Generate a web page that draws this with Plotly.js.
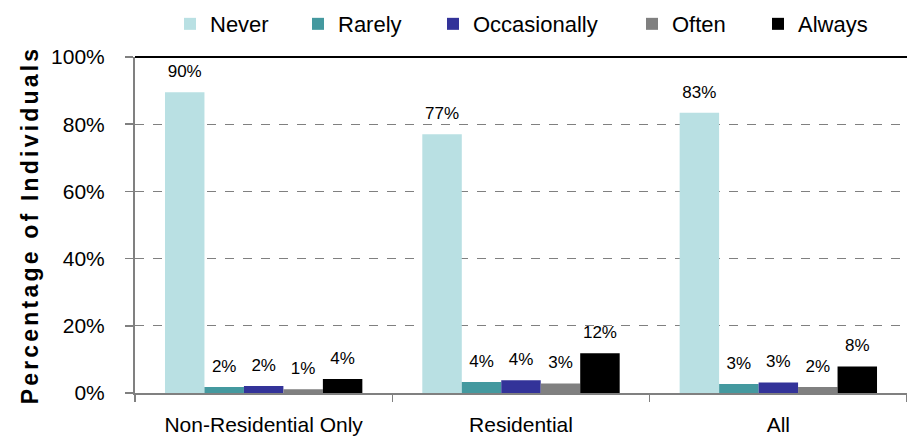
<!DOCTYPE html>
<html>
<head>
<meta charset="utf-8">
<script src="https://cdn.plot.ly/plotly-3.0.1.min.js"></script>
<style>
html,body{margin:0;padding:0;background:#fff;}
#chart{width:907px;height:437px;}
.ytitle{letter-spacing:3.2px;}
</style>
</head>
<body>
<div id="chart"></div>
<script>
const categories = ["Non-Residential Only", "Residential", "All"];
const seriesNames = ["Never", "Rarely", "Occasionally", "Often", "Always"];
const never = [89.5, 77.0, 83.4];
const rarely = [1.8, 3.3, 2.7];
const occasionally = [2.1, 3.8, 3.1];
const often = [1.1, 2.8, 1.8];
const always = [4.2, 11.8, 7.9];
const neverLabels = ["90%", "77%", "83%"];
const rarelyLabels = ["2%", "4%", "3%"];
const occasionallyLabels = ["2%", "4%", "3%"];
const oftenLabels = ["1%", "3%", "2%"];
const alwaysLabels = ["4%", "12%", "8%"];
const yTickVals = [0, 20, 40, 60, 80, 100];
const yTickText = ["0%", "20%", "40%", "60%", "80%", "100%"];

const colors = ["#B9E0E3", "#44999F", "#333399", "#808080", "#000000"];
const values = [never, rarely, occasionally, often, always];
const labels = [neverLabels, rarelyLabels, occasionallyLabels, oftenLabels, alwaysLabels];
const FONT = "Liberation Sans, Arial, sans-serif";
const GAP = 0.233;
// left edge (px) of each legend entry
const legendLeft = [170, 298, 433, 632, 758];
const legendIds = ["legend", "legend2", "legend3", "legend4", "legend5"];

const barTraces = seriesNames.map((name, i) => ({
  type: "bar",
  name: name,
  legend: legendIds[i],
  x: categories,
  y: values[i],
  marker: {color: colors[i], line: {width: 0}},
  hoverinfo: "skip"
}));

const labelTraces = seriesNames.map((name, i) => ({
  type: "scatter",
  mode: "markers+text",
  name: name + " labels",
  showlegend: false,
  x: categories,
  y: values[i],
  text: labels[i],
  textposition: "top center",
  cliponaxis: false,
  textfont: {family: FONT, size: 17, color: "#000"},
  marker: {size: 16, opacity: 0, color: "#fff"},
  hoverinfo: "skip"
}));

const layout = {
  width: 907,
  height: 437,
  margin: {l: 135, r: 0, t: 57, b: 44},
  paper_bgcolor: "#fff",
  plot_bgcolor: "#fff",
  barmode: "group",
  bargap: GAP,
  bargroupgap: 0,
  scattermode: "group",
  scattergap: GAP,
  showlegend: true,
  xaxis: {
    type: "category",
    tickson: "boundaries",
    ticks: "outside",
    ticklen: 7,
    tickcolor: "#808080",
    tickwidth: 1.5,
    showline: true,
    linecolor: "#808080",
    linewidth: 2,
    showgrid: false,
    tickfont: {family: FONT, size: 21, color: "#000"},
    ticklabelstandoff: 12
  },
  yaxis: {
    range: [0, 100],
    tickvals: yTickVals,
    ticktext: yTickText,
    ticks: "outside",
    ticklen: 8,
    tickcolor: "#808080",
    tickwidth: 1.5,
    showline: true,
    linecolor: "#808080",
    linewidth: 2,
    showgrid: true,
    gridcolor: "#808080",
    griddash: "dash",
    gridwidth: 1.2,
    zeroline: false,
    tickfont: {family: FONT, size: 21, color: "#000"},
    ticklabelstandoff: 16,
    title: {text: "Percentage of Individuals", font: {family: FONT, size: 23, color: "#000", weight: "bold"}, standoff: 6}
  },
  shapes: [{
    type: "line", xref: "paper", yref: "paper",
    x0: 0, x1: 1, y0: 1, y1: 1,
    line: {color: "#000", width: 2}
  }]
};

legendIds.forEach((id, i) => {
  layout[id] = {
    orientation: "h",
    x: legendLeft[i] / 907, xanchor: "left", xref: "container",
    y: 0.945, yanchor: "middle", yref: "container",
    font: {family: FONT, size: 22, color: "#000"},
    itemwidth: 30,
    bgcolor: "rgba(0,0,0,0)"
  };
});

Plotly.newPlot("chart", barTraces.concat(labelTraces), layout, {displayModeBar: false, staticPlot: true});
</script>
</body>
</html>
